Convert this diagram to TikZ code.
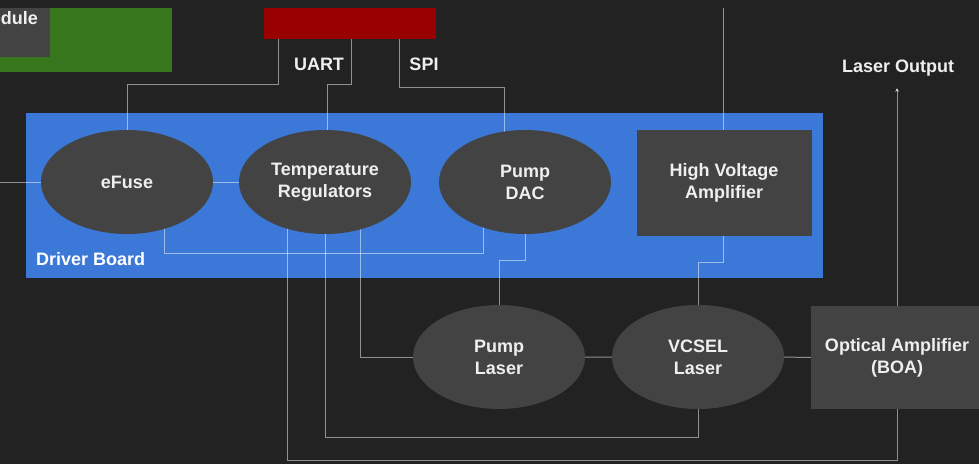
\documentclass[tikz,border=0pt]{standalone}
\usepackage{fontspec}
\setmainfont{Liberation Sans}
\usetikzlibrary{shapes.geometric,calc,arrows.meta}
\definecolor{bgdark}{HTML}{222222}
\definecolor{nodegray}{HTML}{434343}
\definecolor{boardblue}{HTML}{3C78D8}
\definecolor{redc}{HTML}{990000}
\definecolor{greenc}{HTML}{38761D}
\definecolor{txtc}{HTML}{EFEFEF}
\pgfdeclarelayer{bg}
\pgfdeclarelayer{wires}
\pgfsetlayers{bg,wires,main}
\begin{document}
\begin{tikzpicture}[x=1pt,y=-1pt,
  txt/.style={text=txtc,font=\bfseries\fontsize{18}{22}\selectfont,align=center},
  oval/.style={ellipse,fill=nodegray,minimum width=172pt,minimum height=104pt,inner sep=0pt,txt},
  boxn/.style={rectangle,fill=nodegray,inner sep=0pt,txt},
  wire/.style={draw=white,draw opacity=0.5,line width=1pt}]
\useasboundingbox (0,0) rectangle (979,463);
\begin{pgfonlayer}{bg}
  \fill[bgdark] (-20,-20) rectangle (1000,480);
  \node[boxn,fill=boardblue,minimum width=797pt,minimum height=165pt,anchor=north west] (board) at (26,113) {};
\end{pgfonlayer}
% top boxes
\node[boxn,fill=greenc,minimum width=182pt,minimum height=64pt,anchor=north west] (green) at (-10,8) {};
\node[boxn,minimum width=110pt,minimum height=49pt,anchor=north west] (module) at (-60,8) {};
\node[txt,anchor=base east,inner sep=0pt] (modlabel) at (38,24) {Module};
\node[boxn,fill=redc,minimum width=172pt,minimum height=31pt,anchor=north west] (mcu) at (264,8) {};
% labels
\node[txt,inner sep=0pt] (uart) at (319,64.5) {UART};
\node[txt,inner sep=0pt] (spi) at (424,64.5) {SPI};
\node[txt,inner sep=0pt,anchor=base] (outlabel) at (898,72) {Laser Output};
\node[txt,text=white,inner sep=0pt,anchor=base west] (boardlabel) at (36,265) {Driver Board};
% blocks
\node[oval] (efuse) at (127,182) {eFuse};
\node[oval] (temp) at (325,182) {Temperature\\Regulators};
\node[oval] (dac) at (525,182) {Pump\\DAC};
\node[boxn,minimum width=175pt,minimum height=106pt] (hva) at (724,183) {High Voltage\\Amplifier};
\node[oval] (plaser) at (499,357) {Pump\\Laser};
\node[oval] (vcsel) at (698,357) {VCSEL\\Laser};
\node[boxn,minimum width=172pt,minimum height=103pt] (boa) at (897,357.5) {Optical Amplifier\\(BOA)};
% wires
\begin{pgfonlayer}{wires}
  \coordinate (lin) at (0,182);
  \coordinate (hvin) at (723,8);
  \coordinate (outtip) at (897,88);
  \draw[wire] (lin) -- (efuse.center);
  \draw[wire] (efuse.center) -- (temp.center);
  \draw[wire] ($(mcu.south west)+(14,0)$) |- ($(efuse.center)+(0,-98)$) -- (efuse.center);
  \draw[wire] ($(mcu.south west)+(87,0)$) |- ($(temp.center)+(2,-98)$) -- ($(temp.center)+(2,0)$);
  \draw[wire] ($(mcu.south west)+(135,0)$) |- ($(dac.center)+(-21,-95)$) -- ($(dac.center)+(-21,0)$);
  \draw[wire] (hvin) -- (hvin |- hva.center);
  \draw[wire] ($(efuse.center)+(37,0)$) |- ($(dac.center)+(-42,71)$) -- ($(dac.center)+(-42,0)$);
  \draw[wire] ($(temp.center)+(35,0)$) |- (plaser.center);
  \draw[wire] (temp.center) |- ($(vcsel.center)+(0,80)$) -- (vcsel.center);
  \draw[wire] ($(temp.center)+(-38,0)$) |- ($(boa.center)+(0,103)$) -- (boa.center);
  \draw[wire] (dac.center) -- ($(dac.center)+(0,78)$) -| (plaser.center);
  \draw[wire] ($(hva.center)+(-1,0)$) -- ++(0,79) -| (vcsel.center);
  \draw[wire] (plaser.center) -- (vcsel.center) -- (boa.center);
  \draw[wire,-{Stealth[length=4pt,width=4pt]}] (boa.center) -- (outtip);
\end{pgfonlayer}
\end{tikzpicture}
\end{document}
